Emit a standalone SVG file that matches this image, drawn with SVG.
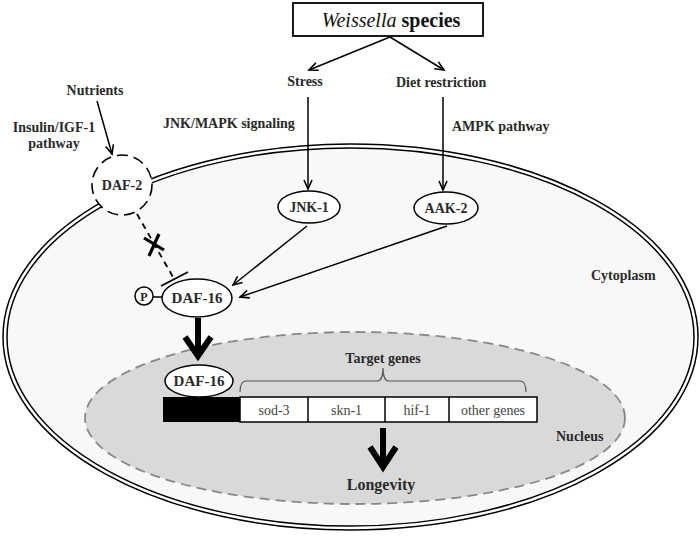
<svg xmlns="http://www.w3.org/2000/svg" width="700" height="538" viewBox="0 0 700 538">
<defs>
<marker id="arr" markerUnits="userSpaceOnUse" markerWidth="12" markerHeight="10" refX="10" refY="5" orient="auto">
<path d="M1,1 L10,5 L1,9" fill="none" stroke="#000" stroke-width="1.6"/>
</marker>
<style>
.lbl{font-family:"Liberation Serif","Times New Roman",serif;font-weight:bold;font-size:14px;fill:#2a2a2a}
.gene{font-family:"Liberation Serif","Times New Roman",serif;font-size:14px;fill:#444;text-anchor:middle}
.ln{stroke:#000;stroke-width:1.5;fill:none}
.node{fill:#fff;stroke:#000;stroke-width:1.5}
.thick{stroke:#000;stroke-width:6;fill:none}
</style>
</defs>
<rect width="700" height="538" fill="#fff"/>
<g id="cell">
<ellipse cx="350.5" cy="337" rx="345.5" ry="191" fill="#f8f8f8" stroke="#000" stroke-width="5.5"/>
<ellipse cx="350.5" cy="337" rx="345.5" ry="191" fill="none" stroke="#fff" stroke-width="2.5"/>
<text class="lbl" x="591" y="280">Cytoplasm</text>
</g>
<g id="nucleus">
<ellipse cx="355" cy="418" rx="270" ry="86" fill="#d9d9d9" stroke="#888" stroke-width="1.8" stroke-dasharray="10 6"/>
<text class="lbl" x="556" y="441">Nucleus</text>
</g>
<g id="weissella">
<rect x="293" y="3" width="190" height="33" fill="#fff" stroke="#000" stroke-width="1.8"/>
<text x="391" y="27" text-anchor="middle" font-family="'Liberation Serif','Times New Roman',serif" font-size="20" fill="#111"><tspan font-style="italic">Weissella</tspan> <tspan font-weight="bold">species</tspan></text>
</g>
<g id="labels">
<text class="lbl" x="305" y="86" text-anchor="middle">Stress</text>
<text class="lbl" x="396" y="87">Diet restriction</text>
<text class="lbl" x="95" y="95" text-anchor="middle">Nutrients</text>
<text class="lbl" x="54" y="132" text-anchor="middle">Insulin/IGF-1</text>
<text class="lbl" x="54" y="148" text-anchor="middle">pathway</text>
<text class="lbl" x="163" y="128">JNK/MAPK signaling</text>
<text class="lbl" x="452" y="131">AMPK pathway</text>
</g>
<g id="connectors">
<line class="ln" x1="390" y1="37" x2="309" y2="70" marker-end="url(#arr)"/>
<line class="ln" x1="390" y1="37" x2="444" y2="70" marker-end="url(#arr)"/>
<line class="ln" x1="97" y1="101" x2="112" y2="154" marker-end="url(#arr)"/>
<line class="ln" x1="308" y1="97" x2="308" y2="189" marker-end="url(#arr)"/>
<line class="ln" x1="443" y1="97" x2="443" y2="190" marker-end="url(#arr)"/>
<line class="ln" x1="307" y1="226" x2="233" y2="285" marker-end="url(#arr)"/>
<line class="ln" x1="447" y1="226" x2="240" y2="297" marker-end="url(#arr)"/>
<line x1="137" y1="214" x2="173" y2="277" stroke="#000" stroke-width="1.8" stroke-dasharray="6 5"/>
<line x1="161" y1="286" x2="188" y2="272" stroke="#000" stroke-width="1.8"/>
<line x1="144" y1="238" x2="164" y2="250" stroke="#000" stroke-width="3.2"/>
<line x1="159" y1="234" x2="149" y2="256" stroke="#000" stroke-width="3.2"/>
<line x1="153" y1="297" x2="163" y2="297" stroke="#000" stroke-width="1.5"/>
<line class="thick" x1="198" y1="318" x2="198" y2="354"/>
<polyline class="thick" points="185,337 198,356 211,337" stroke-linejoin="miter"/>
<line class="thick" x1="383" y1="428" x2="383" y2="466"/>
<polyline class="thick" points="370,447 383,467 396,447" stroke-linejoin="miter"/>
<path d="M240,392 Q240,381 246,381 L377,381 Q383,381 383,368 Q383,381 389,381 L520,381 Q526,381 526,392" fill="none" stroke="#555" stroke-width="1.2"/>
</g>
<g id="daf2">
<circle cx="122" cy="185" r="30" fill="#fff" stroke="#000" stroke-width="1.6" stroke-dasharray="11 6"/>
<text class="lbl" x="122" y="190" text-anchor="middle">DAF-2</text>
</g>
<g id="jnk1">
<ellipse class="node" cx="309" cy="207" rx="31" ry="16"/>
<text class="lbl" x="309" y="212" text-anchor="middle">JNK-1</text>
</g>
<g id="aak2">
<ellipse class="node" cx="446" cy="208" rx="32" ry="16"/>
<text class="lbl" x="446" y="213" text-anchor="middle">AAK-2</text>
</g>
<g id="p">
<circle class="node" cx="144" cy="296" r="9"/>
<text x="144" y="300.5" text-anchor="middle" font-family="'Liberation Serif','Times New Roman',serif" font-size="12" font-weight="bold" fill="#222">P</text>
</g>
<g id="daf16-cyto">
<ellipse class="node" cx="197" cy="298" rx="35" ry="19"/>
<text class="lbl" x="197" y="303" text-anchor="middle" style="font-size:15px">DAF-16</text>
</g>
<g id="daf16-nuc">
<ellipse class="node" cx="199" cy="381" rx="34" ry="16"/>
<text class="lbl" x="199" y="386" text-anchor="middle" style="font-size:15px">DAF-16</text>
</g>
<g id="genes">
<rect x="163" y="397" width="77" height="25" fill="#000"/>
<rect x="240" y="397" width="297" height="25" fill="#fff" stroke="#000" stroke-width="1.5"/>
<line class="ln" x1="308" y1="397" x2="308" y2="422"/>
<line class="ln" x1="385" y1="397" x2="385" y2="422"/>
<line class="ln" x1="449" y1="397" x2="449" y2="422"/>
<text class="gene" x="274" y="415">sod-3</text>
<text class="gene" x="346.5" y="415">skn-1</text>
<text class="gene" x="417" y="415">hif-1</text>
<text class="gene" x="493" y="415">other genes</text>
<text class="lbl" x="383" y="363" text-anchor="middle">Target genes</text>
</g>
<g id="longevity">
<text class="lbl" x="381" y="490" text-anchor="middle" style="font-size:16px">Longevity</text>
</g>
</svg>
